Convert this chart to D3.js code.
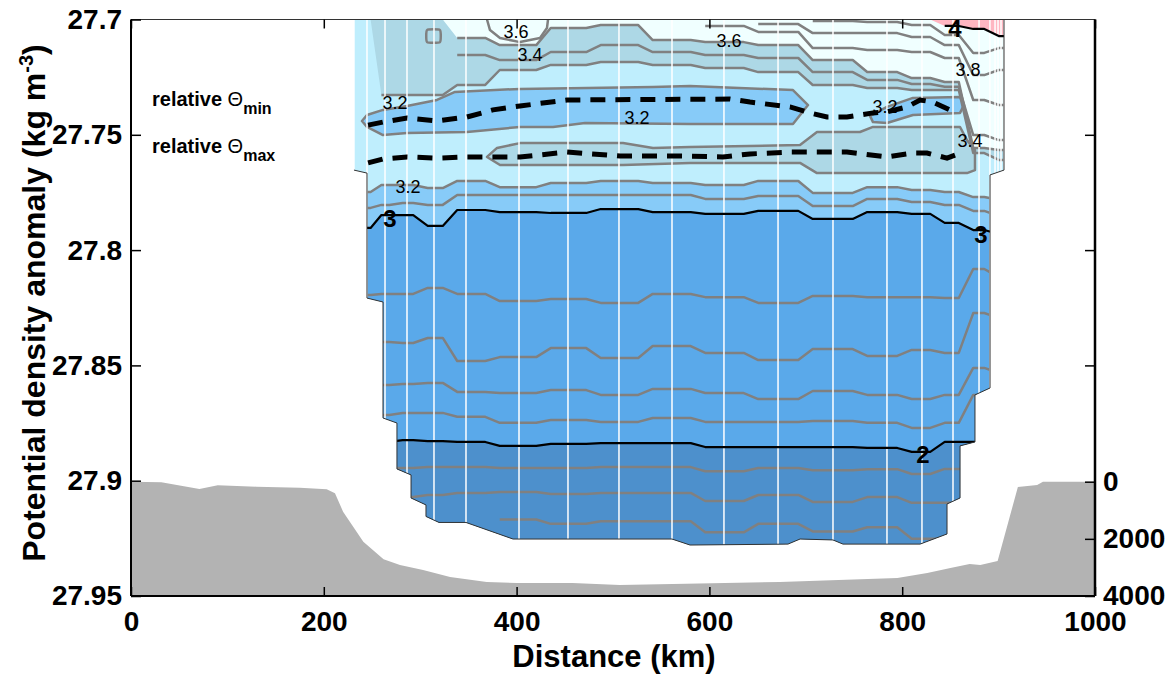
<!DOCTYPE html>
<html><head><meta charset="utf-8">
<script src="https://cdn.jsdelivr.net/npm/d3@7"></script>
<style>
body{margin:0;background:#fff}
svg{display:block}
text{font-family:"Liberation Sans",Arial,Helvetica,sans-serif}
</style>
</head><body>
<svg id="chart" width="1167" height="675"></svg>
<script>
// ---- section geometry -------------------------------------------------
// cast positions along the section (km)
const stationKm = [231.3, 244.8, 263.5, 286.3, 314.3, 347.5, 402.5, 453.3, 506.2, 561.2, 615.1, 671.2, 728.2, 784.2, 820.5, 852.7, 879.7, 905.6];
// closely spaced casts at the eastern end (drawn as marks only)
const extraCastKm = [891, 896.3, 899.4, 902.5];

// outline of the sampled part of the section (km, sigma)
const edgeKm = [231.3, 905.6, 905.6, 891.1, 891.1, 875.5, 875.5, 860.0, 860.0, 846.5, 846.5, 818.5, 738.6, 728.2, 694.0, 681.5, 579.9, 561.2, 396.3, 347.5, 319.5, 306.0, 306.0, 290.5, 290.5, 275.9, 275.9, 261.4, 261.4, 244.8, 244.8, 231.3];
const edgeSigma = [27.7, 27.7, 27.7653, 27.7674, 27.8598, 27.8628, 27.8832, 27.8849, 27.9075, 27.9101, 27.9231, 27.9275, 27.9275, 27.9257, 27.9253, 27.9275, 27.9279, 27.9253, 27.9253, 27.9181, 27.9181, 27.9155, 27.9105, 27.9075, 27.8975, 27.8949, 27.8750, 27.8728, 27.8225, 27.8208, 27.7666, 27.7653];

// ---- isotherms: sigma at each cast (null = absent) ---------------------
const t40 = [null, null, null, null, null, null, null, null, null, null, null, null, null, null, 27.7, 27.7028, 27.7041, 27.7072];
const t39 = [null, null, null, null, null, null, null, null, null, null, null, 27.7, 27.7007, 27.7011, 27.7024, 27.7067, 27.7145, 27.7124];
const t38 = [null, null, null, null, null, null, null, null, null, null, 27.7, 27.702, 27.7059, 27.7059, 27.7076, 27.7111, 27.7241, 27.7219];
const t37 = [null, null, null, null, null, null, null, null, null, 27.7, 27.7028, 27.7054, 27.7124, 27.7132, 27.7141, 27.7167, 27.7349, 27.7371];
const t36 = [27.7, 27.7, 27.7, 27.7, 27.7, 27.708, 27.7111, 27.7037, 27.7024, 27.7089, 27.7098, 27.7111, 27.7176, 27.7228, 27.7254, 27.7271, 27.7557, 27.7566];
const t35 = [null, null, null, null, null, 27.7154, 27.7176, 27.7141, 27.7111, 27.7141, 27.7154, 27.7167, 27.7228, 27.7262, 27.7280, 27.7292, 27.7501, 27.7523];
const t34 = [27.7, 27.7, 27.7327, 27.7327, 27.7327, 27.7284, 27.7219, 27.7197, 27.7184, 27.7197, 27.721, 27.7228, 27.7284, 27.7297, 27.7306, 27.7306, 27.7579, 27.7609];
const t32 = [27.7748, 27.7748, 27.7718, 27.7718, 27.7731, 27.7700, 27.7727, 27.7709, 27.7700, 27.7709, 27.7718, 27.7700, 27.7752, 27.7727, 27.7739, 27.7748, 27.7770, 27.7782];
const t31 = [27.7817, 27.7817, 27.7804, 27.7796, 27.7804, 27.7761, 27.7761, 27.7761, 27.7761, 27.7761, 27.7778, 27.7765, 27.7809, 27.7778, 27.7791, 27.7804, 27.7830, 27.7852];
const t30 = [27.7904, 27.7904, 27.7848, 27.7848, 27.7895, 27.7826, 27.7835, 27.7839, 27.7822, 27.7835, 27.7843, 27.7830, 27.7865, 27.7835, 27.7843, 27.7882, 27.7913, 27.7930];
const t28 = [27.8195, 27.8195, 27.8190, 27.8190, 27.8164, 27.8190, 27.8221, 27.8212, 27.8229, 27.8190, 27.8204, 27.8229, 27.8199, 27.8204, 27.8204, 27.8208, 27.8082, 27.8117];
const t26 = [27.8399, 27.8399, 27.8399, 27.8403, 27.8381, 27.8481, 27.8464, 27.8425, 27.8468, 27.8416, 27.8446, 27.8477, 27.8429, 27.8459, 27.8433, 27.8446, 27.8273, 27.8294];
const t24 = [27.8585, 27.8585, 27.8585, 27.8581, 27.8576, 27.8615, 27.8620, 27.8607, 27.8628, 27.8602, 27.8620, 27.8646, 27.8611, 27.8628, 27.8646, 27.8628, 27.8511, 27.8533];
const t22 = [27.8715, 27.8715, 27.8715, 27.8706, 27.8706, 27.8723, 27.8749, 27.8737, 27.8745, 27.8728, 27.8745, 27.8745, 27.8741, 27.8749, 27.8771, 27.8749, 27.8628, 27.8628];
const t20 = [27.8832, 27.8832, 27.8832, 27.8824, 27.8828, 27.8832, 27.8849, 27.8840, 27.8837, 27.8837, 27.8854, 27.8854, 27.8854, 27.8858, 27.8875, 27.8832, 27.8832, 27.8832];
const t18 = [27.8945, 27.8945, 27.8945, 27.8945, 27.8941, 27.8941, 27.8945, 27.8945, 27.8941, 27.8941, 27.8959, 27.8945, 27.8955, 27.8950, 27.8971, 27.8949, 27.8949, 27.8949];
const t16 = [27.9071, 27.9071, 27.9071, 27.9071, 27.9062, 27.9053, 27.9049, 27.9058, 27.9053, 27.9053, 27.9088, 27.9062, 27.9092, 27.9071, 27.9096, 27.9096, 27.9096, 27.9096];
const t14 = [null, null, null, null, null, null, 27.9168, 27.9187, 27.9176, 27.9176, 27.9224, 27.9187, 27.9220, 27.9202, 27.9252, 27.9252, 27.9252, 27.9252];

// closed isotherm pockets (km, sigma rings)
const coldCoreKm = [239.6, 244.8, 261.4, 286.3, 317.4, 336.1, 403.5, 541.5, 579.9, 686.7, 702.3, 686.7, 579.9, 471.0, 437.8, 403.5, 348.5, 286.3, 261.4, 244.8];
const coldCoreSigma = [27.7440, 27.7414, 27.7392, 27.7375, 27.7349, 27.7314, 27.7301, 27.7293, 27.7288, 27.7306, 27.7371, 27.7453, 27.7453, 27.7449, 27.7466, 27.7466, 27.7488, 27.7492, 27.7501, 27.7466];
const coldCoreEastKm = [766.6, 784.2, 811.2, 860.0, 864.1, 860.0, 811.2, 784.2, 769.7];
const coldCoreEastSigma = [27.7418, 27.7379, 27.7340, 27.7336, 27.7371, 27.7405, 27.7414, 27.7449, 27.7445];
const warmCoreKm = [369.3, 379.7, 403.5, 510.4, 541.5, 579.9, 694.0, 711.6, 756.2, 769.7, 860.0, 867.2, 875.5, 875.5, 867.2, 756.2, 711.6, 694.0, 579.9, 510.4, 382.8];
const warmCoreSigma = [27.7596, 27.7557, 27.7536, 27.7536, 27.7557, 27.7553, 27.7544, 27.7488, 27.7488, 27.7466, 27.7466, 27.7523, 27.7566, 27.7653, 27.7666, 27.7666, 27.7666, 27.7622, 27.7622, 27.7631, 27.7631];
// small near-surface pockets at the western end
const westPatchKm = [307.1, 320.5, 320.5, 307.1];
const westPatchSigma = [27.7046, 27.7046, 27.7098, 27.7098];
const warmCapKm = [369.3, 372.4, 382.8, 403.5, 424.3, 431.5, 432.6];
const warmCapSigma = [27.7, 27.7046, 27.708, 27.7098, 27.708, 27.7037, 27.7];

// density of the relative temperature extrema
const thetaMinKm = [245.9, 261.4, 286.3, 317.4, 348.5, 375.5, 403.5, 452.3, 621.4, 642.1, 683.6, 704.4, 722.0, 742.7, 769.7, 784.2, 805.0, 818.5, 831.9, 849.6];
const thetaMinSigma = [27.7458, 27.7445, 27.7427, 27.7440, 27.7423, 27.7392, 27.7375, 27.7349, 27.7345, 27.7358, 27.7379, 27.7405, 27.7423, 27.7423, 27.7405, 27.7401, 27.7379, 27.7349, 27.7358, 27.7392];
const thetaMaxKm = [245.9, 261.4, 286.3, 317.4, 348.5, 403.5, 452.3, 507.3, 569.5, 614.1, 642.1, 683.6, 742.7, 784.2, 811.2, 825.7, 846.5, 854.8];
const thetaMaxSigma = [27.7622, 27.7605, 27.7596, 27.7601, 27.7596, 27.7596, 27.7575, 27.7592, 27.7592, 27.7596, 27.7583, 27.7575, 27.7575, 27.7596, 27.7579, 27.7579, 27.7601, 27.7588];

// contour labels
const labelText  = ["3.6", "3.4", "3.6", "3.8", "3.2", "3.2", "3.2", "3.4", "3.2", "3", "3", "2", "4"];
const labelKm    = [399.4, 413.9, 620.3, 868.3, 273.9, 524.9, 782.2, 870.3, 287.3, 268.7, 881.7, 821.6, 854.8];
const labelSigma = [27.705, 27.7154, 27.7089, 27.7219, 27.7358, 27.7427, 27.7379, 27.7523, 27.7726, 27.7861, 27.793, 27.8884, 27.7037];

// ---- bathymetry (km, depth m) ------------------------------------------
const bathyKm = [0, 31.5, 71, 90, 130, 175, 203, 211.6, 220, 241, 262, 279, 303, 331, 369, 400, 458, 507, 562, 673, 795, 826, 850, 870, 881, 899, 920, 940, 946, 1000];
const bathyDepth = [0, 20, 255, 126, 175, 210, 266, 406, 1050, 2100, 2715, 2915, 3090, 3335, 3510, 3545, 3545, 3615, 3580, 3510, 3370, 3195, 3020, 2880, 2915, 2775, 185, 115, 0, 0];

// ---- axes ----------------------------------------------------------------
const xTicks = [0, 200, 400, 600, 800, 1000];
const yTicks = [27.7, 27.75, 27.8, 27.85, 27.9, 27.95];
const yTickLabels = ["27.7", "27.75", "27.8", "27.85", "27.9", "27.95"];
const depthTicks = [0, 2000, 4000];

// ---- colours per temperature band ---------------------------------------
const C = {
  warm: "#ffb6c1", b36: "#f0ffff", b34: "#add8e6", b32: "#bfeefd",
  b30: "#87cbf8", b20: "#5aa9ea", cold: "#4d90cc",
  grey: "#808080", white: "#ffffff"
};

const svg = d3.select("#chart");
const x = d3.scaleLinear().domain([0, 1000]).range([131, 1095]);
const y = d3.scaleLinear().domain([27.7, 27.95]).range([19.5, 596]);
const yDepth = d3.scaleLinear().domain([0, 4000]).range([481.7, 596]);

// piecewise-flat profile: each cast holds its value, blending to the next over a short ramp
const RAMP = 15;
function castPoints(vals) {
  const n = stationKm.length, pts = [];
  for (let i = 0; i < n; i++) {
    const v = vals[i];
    if (v == null) { pts.push(null); continue; }
    const a = i > 0 ? (stationKm[i - 1] + stationKm[i]) / 2 + Math.min(RAMP, 0.6 * (stationKm[i] - stationKm[i - 1])) / 2 : stationKm[i] - 6;
    const b = i < n - 1 ? (stationKm[i] + stationKm[i + 1]) / 2 - Math.min(RAMP, 0.6 * (stationKm[i + 1] - stationKm[i])) / 2 : stationKm[i] + 6;
    pts.push([a, v], [b, v]);
  }
  return pts;
}
const ring = (ks, ss) => ks.map((k, i) => [k, ss[i]]);

const lineGen = d3.line().defined(d => d && d[1] > 27.7005).x(d => x(d[0])).y(d => y(d[1]));
const belowGen = d3.area().defined(d => d).x(d => x(d[0])).y0(y(27.95)).y1(d => y(d[1]));
const aboveGen = d3.area().defined(d => d).x(d => x(d[0])).y0(y(27.7)).y1(d => y(d[1]));
const polyGen = d3.line().x(d => x(d[0])).y(d => y(d[1]));
const roundPoly = d3.line().x(d => x(d[0])).y(d => y(d[1])).curve(d3.curveCardinalClosed.tension(0.5));

// bathymetry
svg.append("path")
  .attr("d", d3.area().x((d, i) => x(bathyKm[i])).y0(yDepth(4000)).y1(d => yDepth(d))(bathyDepth))
  .attr("fill", "#b3b3b3");

// section body
const edge = ring(edgeKm, edgeSigma);
svg.append("clipPath").attr("id", "sec").append("path").attr("d", polyGen(edge) + "Z");
const g = svg.append("g").attr("clip-path", "url(#sec)");

g.append("path").attr("d", polyGen(edge) + "Z").attr("fill", C.b36);
g.append("path").attr("d", belowGen(castPoints(t36))).attr("fill", C.b34);
g.append("path").attr("d", belowGen(castPoints(t34))).attr("fill", C.b32);
g.append("path").attr("d", polyGen(ring(warmCoreKm, warmCoreSigma)) + "Z").attr("fill", C.b34);
g.append("path").attr("d", polyGen(ring(coldCoreKm, coldCoreSigma)) + "Z").attr("fill", C.b30);
g.append("path").attr("d", polyGen(ring(coldCoreEastKm, coldCoreEastSigma)) + "Z").attr("fill", C.b30);
g.append("path").attr("d", belowGen(castPoints(t32))).attr("fill", C.b30);
g.append("path").attr("d", belowGen(castPoints(t30))).attr("fill", C.b20);
g.append("path").attr("d", belowGen(castPoints(t20))).attr("fill", C.cold);
g.append("path").attr("d", aboveGen(castPoints(t40))).attr("fill", C.warm);

// grey isotherms
const greyStroke = sel => sel.attr("fill", "none").attr("stroke", C.grey).attr("stroke-width", 2.5).attr("stroke-linejoin", "round");
[t39, t38, t37, t36, t35, t34, t32, t31, t28, t26, t24, t22, t18, t16, t14].forEach(v => {
  g.append("path").attr("d", lineGen(castPoints(v))).call(greyStroke);
});
[[warmCoreKm, warmCoreSigma], [coldCoreKm, coldCoreSigma], [coldCoreEastKm, coldCoreEastSigma]].forEach(([k, s]) => {
  g.append("path").attr("d", polyGen(ring(k, s)) + "Z").call(greyStroke);
});
g.append("path").attr("d", roundPoly(ring(westPatchKm, westPatchSigma))).call(greyStroke);
g.append("path").attr("d", polyGen(ring(warmCapKm, warmCapSigma))).call(greyStroke);

// cast marks
stationKm.concat(extraCastKm).forEach(k => {
  g.append("line").attr("x1", x(k)).attr("x2", x(k)).attr("y1", y(27.7)).attr("y2", y(27.95))
    .attr("stroke", C.white).attr("stroke-width", 1.5);
});

// black isotherms
[t40, t30, t20].forEach(v => {
  g.append("path").attr("d", lineGen(castPoints(v)))
    .attr("fill", "none").attr("stroke", "#000").attr("stroke-width", 2.2).attr("stroke-linejoin", "round");
});

// outline
svg.append("path").attr("d", polyGen(edge.slice(1)))
  .attr("fill", "none").attr("stroke", "#333").attr("stroke-width", 1);

// relative extrema
[[thetaMinKm, thetaMinSigma], [thetaMaxKm, thetaMaxSigma]].forEach(([k, s]) => {
  svg.append("path").attr("d", polyGen(ring(k, s)))
    .attr("fill", "none").attr("stroke", "#000").attr("stroke-width", 5).attr("stroke-dasharray", "15 10");
});

// contour labels
labelText.forEach((t, i) => {
  const bold = !t.includes(".");
  svg.append("text").attr("x", x(labelKm[i])).attr("y", y(labelSigma[i]))
    .attr("text-anchor", "middle").attr("dy", "0.36em")
    .attr("font-size", bold ? 24 : 18).attr("font-weight", bold ? "bold" : "normal")
    .text(t);
});

// legend text for the dashed lines
[["min", 27.7375], ["max", 27.7579]].forEach(([sub, s]) => {
  const t = svg.append("text").attr("x", 152).attr("y", y(s)).attr("font-size", 20).attr("font-weight", "bold");
  t.append("tspan").text("relative ");
  t.append("tspan").attr("font-weight", "normal").text("\u0398");
  t.append("tspan").attr("dy", 8).attr("font-size", 16).text(sub);
});

// ---- frame and axes --------------------------------------------------------
const frame = svg.append("g");
frame.append("line").attr("x1", x(0)).attr("x2", x(1000)).attr("y1", y(27.7)).attr("y2", y(27.7)).attr("stroke", "#333").attr("stroke-width", 1.2);
frame.append("line").attr("x1", x(0)).attr("x2", x(1000)).attr("y1", y(27.95)).attr("y2", y(27.95)).attr("stroke", "#000").attr("stroke-width", 2);
frame.append("line").attr("x1", x(0)).attr("x2", x(0)).attr("y1", y(27.7)).attr("y2", y(27.95)).attr("stroke", "#000").attr("stroke-width", 2);
frame.append("line").attr("x1", x(1000)).attr("x2", x(1000)).attr("y1", y(27.7)).attr("y2", y(27.95)).attr("stroke", "#000").attr("stroke-width", 2.5);

function styleAxis(sel) {
  sel.select(".domain").remove();
  sel.selectAll("line").attr("stroke", "#000").attr("stroke-width", 1.5);
  sel.selectAll("text").attr("font-size", 28).attr("font-weight", "bold").attr("fill", "#000")
    .style("font-family", "'Liberation Sans',Arial,sans-serif");
}
svg.append("g").attr("transform", `translate(0,${y(27.95)})`)
  .call(d3.axisBottom(x).tickValues(xTicks).tickSize(-9).tickPadding(15).tickFormat(d3.format("d"))).call(styleAxis);
svg.append("g").attr("transform", `translate(0,${y(27.7)})`)
  .call(d3.axisTop(x).tickValues(xTicks).tickSize(-9).tickFormat("")).call(styleAxis);
svg.append("g").attr("transform", `translate(${x(0)},0)`)
  .call(d3.axisLeft(y).tickValues(yTicks).tickSize(-10).tickPadding(9).tickFormat((d, i) => yTickLabels[i])).call(styleAxis);
svg.append("g").attr("transform", `translate(${x(1000)},0)`)
  .call(d3.axisRight(y).tickValues(yTicks.slice(1, 4)).tickSize(-10).tickFormat("")).call(styleAxis);
svg.append("g").attr("transform", `translate(${x(1000)},0)`)
  .call(d3.axisRight(yDepth).tickValues(depthTicks).tickSize(-10).tickPadding(8).tickFormat(d3.format("d"))).call(styleAxis);

// titles
svg.append("text").attr("x", 614).attr("y", 667).attr("text-anchor", "middle")
  .attr("font-size", 31).attr("font-weight", "bold").text("Distance (km)");
const yt = svg.append("text").attr("transform", "translate(45,303) rotate(-90)").attr("text-anchor", "middle")
  .attr("font-size", 32).attr("font-weight", "bold");
yt.append("tspan").text("Potential density anomaly (kg m");
yt.append("tspan").attr("dy", -12).attr("font-size", 20).text("-3");
yt.append("tspan").attr("dy", 12).text(")");
</script>
</body></html>
